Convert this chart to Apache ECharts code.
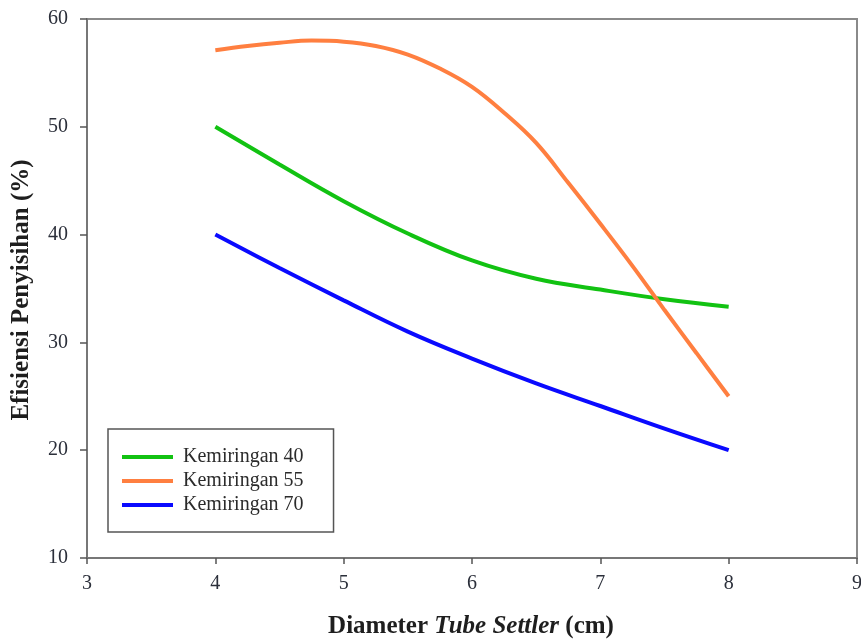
<!DOCTYPE html>
<html>
<head>
<meta charset="utf-8">
<script src="https://cdn.jsdelivr.net/npm/echarts@6/dist/echarts.min.js"></script>
<style>
html,body{margin:0;padding:0;background:#fff;}
#chart{width:861px;height:641px;}
</style>
</head>
<body>
<div id="chart"></div>
<script>
// Data
var seriesNames = ['Kemiringan 40', 'Kemiringan 55', 'Kemiringan 70'];
var x40 = [4, 4.5, 5, 5.5, 6, 6.5, 7, 7.5, 8];
var y40 = [50.0, 46.5, 43.1, 40.1, 37.6, 35.9, 34.9, 34.0, 33.3];
var x55 = [4, 4.25, 4.5, 4.75, 5, 5.25, 5.5, 5.75, 6, 6.25, 6.5, 6.75, 7, 7.25, 7.5, 7.75, 8];
var y55 = [57.1, 57.5, 57.8, 58.0, 57.9, 57.5, 56.7, 55.4, 53.7, 51.3, 48.5, 44.8, 41.0, 37.1, 33.0, 29.0, 25.0];
var x70 = [4, 4.5, 5, 5.5, 6, 6.5, 7, 7.5, 8];
var y70 = [40.0, 36.9, 33.9, 31.0, 28.5, 26.2, 24.1, 22.0, 20.0];
var xTicks = [3, 4, 5, 6, 7, 8, 9];
var yTicks = [10, 20, 30, 40, 50, 60];

function pairs(xs, ys) { return xs.map(function (x, i) { return [x, ys[i]]; }); }

var colors = ['#12c212', '#ff7f40', '#0a0aff'];
var serif = '"Liberation Serif", "Times New Roman", serif';

var chart = echarts.init(document.getElementById('chart'), null, {renderer: 'canvas'});
chart.setOption({
  animation: false,
  backgroundColor: '#fff',
  grid: {
    left: 87, right: 4, top: 19, bottom: 83,
    outerBoundsMode: 'none', containLabel: false,
    show: true, borderColor: '#8a8a8a', borderWidth: 2, backgroundColor: 'transparent'
  },
  xAxis: {
    type: 'value', min: xTicks[0], max: xTicks[xTicks.length - 1], interval: 1,
    axisLine: {show: true, lineStyle: {color: '#777', width: 2}},
    axisTick: {show: true, length: 6, lineStyle: {color: '#555', width: 1.5}},
    axisLabel: {margin: 16, fontFamily: serif, fontSize: 20, color: '#2b2f3a'},
    splitLine: {show: false}
  },
  yAxis: {
    type: 'value', min: yTicks[0], max: yTicks[yTicks.length - 1], interval: 10,
    axisLine: {show: true, lineStyle: {color: '#777', width: 2}},
    axisTick: {show: true, length: 7, lineStyle: {color: '#555', width: 1.5}},
    axisLabel: {margin: 19, fontFamily: serif, fontSize: 20, color: '#2b2f3a'},
    splitLine: {show: false}
  },
  legend: {
    orient: 'vertical', left: 108, top: 429,
    data: seriesNames,
    icon: 'rect', itemWidth: 51, itemHeight: 4, itemGap: 4,
    backgroundColor: '#fff', borderColor: '#555', borderWidth: 1.5, borderRadius: 0,
    padding: [18, 30, 17, 14],
    textStyle: {fontFamily: serif, fontSize: 20, color: '#2b2b2b', lineHeight: 17, padding: [0, 0, 0, 5]}
  },
  graphic: [
    {
      type: 'text', x: 471, y: 627,
      style: {
        text: '{a|Diameter }{b|Tube Settler}{a| (cm)}',
        textAlign: 'center', textVerticalAlign: 'middle',
        rich: {
          a: {fontFamily: serif, fontSize: 25, fontWeight: 'bold', fill: '#1e1e1e'},
          b: {fontFamily: serif, fontSize: 25, fontWeight: 'bold', fontStyle: 'italic', fill: '#1e1e1e'}
        }
      }
    },
    {
      type: 'text', x: 22, y: 290, rotation: Math.PI / 2,
      style: {
        text: 'Efisiensi Penyisihan (%)',
        textAlign: 'center', textVerticalAlign: 'middle',
        fontFamily: serif, fontSize: 25, fontWeight: 'bold', fill: '#1e1e1e'
      }
    }
  ],
  series: [
    {name: seriesNames[0], type: 'line', smooth: 0.4, showSymbol: false, data: pairs(x40, y40),
      lineStyle: {color: colors[0], width: 4}, itemStyle: {color: colors[0]}},
    {name: seriesNames[1], type: 'line', smooth: 0.4, showSymbol: false, data: pairs(x55, y55),
      lineStyle: {color: colors[1], width: 4}, itemStyle: {color: colors[1]}},
    {name: seriesNames[2], type: 'line', smooth: 0.4, showSymbol: false, data: pairs(x70, y70),
      lineStyle: {color: colors[2], width: 4}, itemStyle: {color: colors[2]}}
  ]
});
</script>
</body>
</html>
